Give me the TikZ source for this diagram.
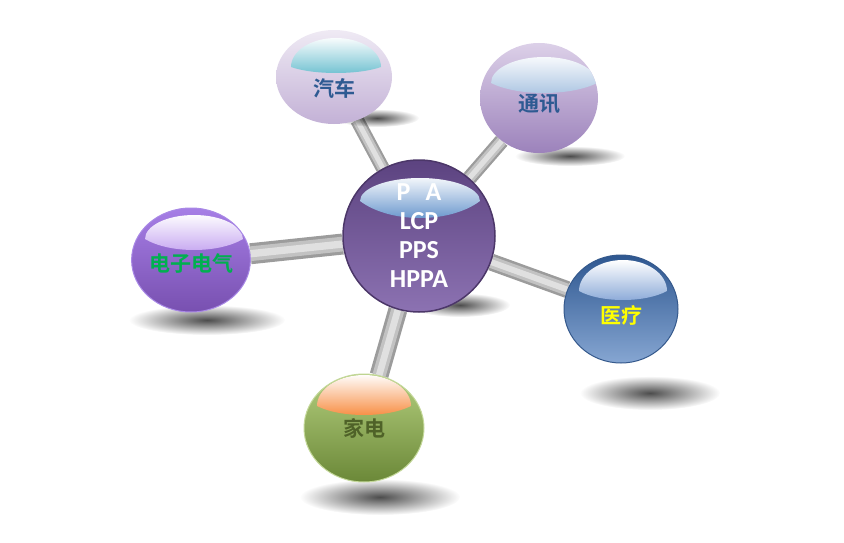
\documentclass[tikz,border=0pt]{standalone}
\usepackage{fontspec}
\setmainfont{Carlito}
\newfontfamily\cjk[BoldFont={Noto Sans CJK SC Bold}]{Noto Sans CJK SC}
\usetikzlibrary{shapes.geometric,backgrounds,fadings,calc}

\definecolor{carTop}{HTML}{EFEAF4}\definecolor{carBot}{HTML}{C3B1D6}\definecolor{carCap}{HTML}{6EC0D0}
\definecolor{comTop}{HTML}{DCD0E8}\definecolor{comBot}{HTML}{9C82BB}\definecolor{comCap}{HTML}{A9C3E1}
\definecolor{coreTop}{HTML}{5C4380}\definecolor{coreMid}{HTML}{6B4F90}\definecolor{coreBot}{HTML}{8C72B2}
\definecolor{coreEdge}{HTML}{4C3769}\definecolor{coreCap}{HTML}{5A8CC8}
\definecolor{eleTop}{HTML}{A67EE6}\definecolor{eleMid}{HTML}{9466D6}\definecolor{eleBot}{HTML}{7850B0}
\definecolor{eleEdge}{HTML}{A989E6}\definecolor{eleCap}{HTML}{C4A4F0}
\definecolor{medTop}{HTML}{2E5790}\definecolor{medMid}{HTML}{4070AC}\definecolor{medBot}{HTML}{86A6D2}
\definecolor{medEdge}{HTML}{35598C}\definecolor{medCap}{HTML}{86A6D6}
\definecolor{homTop}{HTML}{B4CF7E}\definecolor{homBot}{HTML}{6B8838}
\definecolor{homEdge}{HTML}{C4D89A}\definecolor{homCap}{HTML}{F7883A}
\definecolor{txtBlue}{HTML}{2E5A92}\definecolor{txtGreen}{HTML}{00B050}
\definecolor{txtYellow}{HTML}{FFFF00}\definecolor{txtOlive}{HTML}{4F6228}
\definecolor{rodEdge}{HTML}{9C9C9C}\definecolor{rodMid}{HTML}{C2C2C2}
\definecolor{rodLight}{HTML}{E0E0E0}

\tikzfading[name=softshadow, inner color=transparent!30, outer color=transparent!100]

% glossy cap: x shift, half width, top, end height, bottom middle, colours
\newcommand\domecap[7]{%
  \pgfmathsetmacro\capk{#4+0.552*(#3-#4)}%
  \pgfmathsetmacro\capl{(4*#5-#4)/3}%
  \coordinate (pc) at (path picture bounding box.center);
  \shade[top color=#6, bottom color=#7]
    ($(pc)+(#1-#2,#4)$) .. controls ($(pc)+(#1-#2,\capk)$) and ($(pc)+(#1-0.552*#2,#3)$) .. ($(pc)+(#1,#3)$)
    .. controls ($(pc)+(#1+0.552*#2,#3)$) and ($(pc)+(#1+#2,\capk)$) .. ($(pc)+(#1+#2,#4)$)
    .. controls ($(pc)+(#1+0.5*#2,\capl)$) and ($(pc)+(#1-0.5*#2,\capl)$) .. cycle;}

\begin{document}
\begin{tikzpicture}[x=1pt, y=-1pt,
    ball/.style={ellipse, inner sep=0pt, text depth=0pt,
      font=\cjk\bfseries\fontsize{21}{21}\selectfont},
    rod/.style={line width=#1pt, draw=rodEdge,
      postaction={draw=rodMid, line width=0.7*#1pt},
      postaction={draw=rodLight, line width=0.35*#1pt}},
    shadow/.style={fill=black, path fading=softshadow}]
  \useasboundingbox (0,0) rectangle (844,543);

  \node[circle, minimum size=152pt, inner sep=0pt, draw=coreEdge, line width=1.5pt,
        top color=coreTop, middle color=coreMid, bottom color=coreBot,
        path picture={\domecap{1}{60}{-58}{-35}{-18}{white!92!coreCap}{coreCap}},
        text=white, align=center, font=\bfseries\fontsize{26}{29}\selectfont]
    (core) at (419,236) {P\hspace{15pt}A\\LCP\\PPS\\HPPA};

  \node[ball, minimum width=116pt, minimum height=94pt, text height=38pt,
        top color=carTop, bottom color=carBot, text=txtBlue,
        path picture={\domecap{2}{45}{-39}{-10}{-4}{white!95!carCap}{carCap}}]
    (car) at (334,77) {汽车};
  \node[ball, minimum width=118pt, minimum height=110pt, text height=26pt,
        top color=comTop, bottom color=comBot, text=txtBlue,
        path picture={\domecap{5}{53}{-41}{-15}{-5}{white!90!comCap}{comCap}}]
    (comm) at (539,98) {通讯};
  \node[ball, minimum width=116pt, minimum height=104pt, text height=22pt,
        draw=eleEdge, line width=1pt,
        top color=eleTop, middle color=eleMid, bottom color=eleBot, text=txtGreen,
        path picture={\domecap{3}{49}{-45}{-21}{-10}{white!95!eleCap}{eleCap}}]
    (elec) at (191,260) {电子电气};
  \node[ball, minimum width=114pt, minimum height=108pt, text height=28pt,
        draw=medEdge, line width=1pt,
        top color=medTop, middle color=medMid, bottom color=medBot, text=txtYellow,
        path picture={\domecap{2}{44}{-49}{-18}{-9}{white}{medCap}}]
    (med) at (621,309) {医疗};
  \node[ball, minimum width=120pt, minimum height=108pt, text height=16pt,
        draw=homEdge, line width=1pt,
        top color=homTop, bottom color=homBot, text=txtOlive,
        path picture={\domecap{0}{47}{-53}{-22}{-13}{white!97!homCap}{homCap}}]
    (home) at (364,428) {家电};

  \begin{scope}[on background layer]
    \draw[rod=14] (core) -- (car);
    \draw[rod=15] (core) -- (comm);
    \draw[rod=21] (core) -- (elec);
    \draw[rod=17] (core) -- (med);
    \draw[rod=19] (core) -- (home);
    % shadows
    \path[shadow] (377,118) ellipse[x radius=42, y radius=9];
    \path[shadow] (570,156) ellipse[x radius=55, y radius=10];
    \path[shadow] (207,320) ellipse[x radius=78, y radius=15];
    \path[shadow] (650,393) ellipse[x radius=70, y radius=17];
    \path[shadow] (380,497) ellipse[x radius=80, y radius=18];
    \path[shadow] (460,305) ellipse[x radius=50, y radius=12];
  \end{scope}
\end{tikzpicture}
\end{document}
